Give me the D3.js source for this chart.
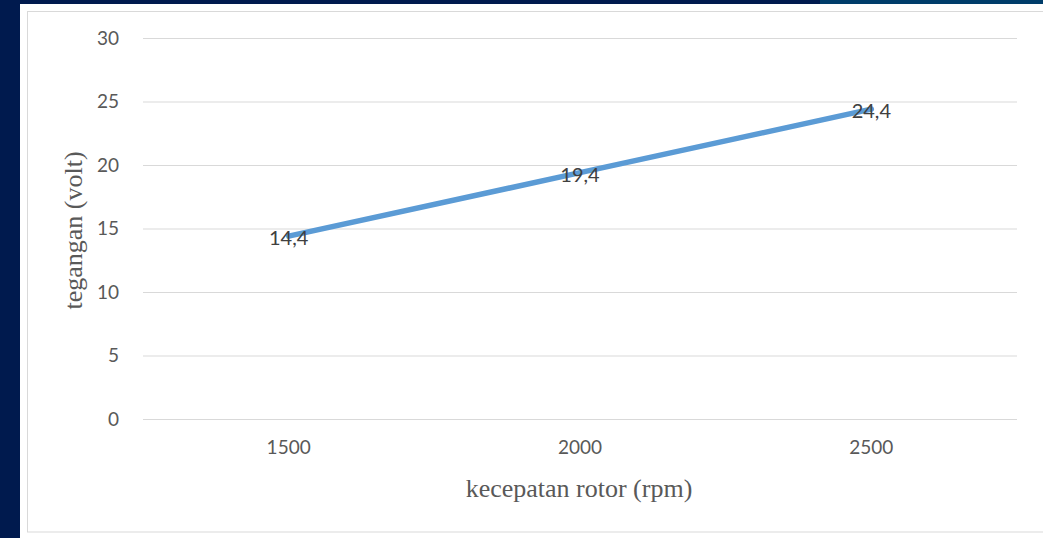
<!DOCTYPE html>
<html>
<head>
<meta charset="utf-8">
<script src="https://cdn.jsdelivr.net/npm/d3@7"></script>
<style>
  html, body { margin: 0; padding: 0; background: #001a4e; }
  svg { display: block; }
</style>
</head>
<body>
<svg id="chart" width="1043" height="538"></svg>
<script>
const categories = ["1500", "2000", "2500"];
const voltages = [14.4, 19.4, 24.4];
const dataLabels = ["14,4", "19,4", "24,4"];
const yTicks = [0, 5, 10, 15, 20, 25, 30];
const xTitle = "kecepatan rotor (rpm)";
const yTitle = "tegangan (volt)";

(function () {
const svg = d3.select("#chart");
const sans = "Lato, 'Open Sans', sans-serif";
const serif = "'Liberation Serif', 'Times New Roman', serif";

// page background pieces
svg.append("rect").attr("x", 0).attr("y", 0).attr("width", 1043).attr("height", 538).attr("fill", "#001a4e");
svg.append("rect").attr("x", 820).attr("y", 0).attr("width", 223).attr("height", 4).attr("fill", "#003d6a");
svg.append("rect").attr("x", 20).attr("y", 4).attr("width", 1023).attr("height", 534).attr("fill", "#ffffff");
// chart border
svg.append("rect").attr("x", 27.5).attr("y", 11.5).attr("width", 1030).attr("height", 520.5)
  .attr("fill", "none").attr("stroke", "#d9d9d9").attr("stroke-width", 1);

const plotLeft = 143, plotRight = 1017, plotTop = 38, plotBottom = 419;

const x = d3.scaleBand().domain(categories).range([plotLeft, plotRight]).padding(0);
const y = d3.scaleLinear().domain([0, 30]).range([plotBottom, plotTop]);

// gridlines + y tick labels
const yAxis = d3.axisLeft(y).tickValues(yTicks).tickSize(-(plotRight - plotLeft)).tickPadding(24);
const gy = svg.append("g").attr("transform", `translate(${plotLeft},0)`).call(yAxis);
gy.select(".domain").remove();
gy.selectAll(".tick line").attr("stroke", "#d9d9d9").attr("stroke-width", 1);
gy.selectAll(".tick text").attr("fill", "#595959")
  .style("font-family", sans).style("font-size", "19px");

const xAxis = d3.axisBottom(x).tickSize(0).tickPadding(22);
const gx = svg.append("g").attr("transform", `translate(0,${plotBottom})`).call(xAxis);
gx.select(".domain").remove();
gx.selectAll(".tick text").attr("fill", "#595959")
  .style("font-family", sans).style("font-size", "19px");

const cx = d => x(d) + x.bandwidth() / 2;

const line = d3.line().x((d, i) => cx(categories[i])).y(d => y(d));
svg.append("path").datum(voltages).attr("d", line)
  .attr("fill", "none").attr("stroke", "#5b9bd5").attr("stroke-width", 5.5).attr("stroke-linecap", "round");

svg.append("g").selectAll("text").data(voltages).join("text")
  .attr("x", (d, i) => cx(categories[i]))
  .attr("y", d => y(d) + 9)
  .attr("text-anchor", "middle")
  .attr("fill", "#404040")
  .style("font-family", sans).style("font-size", "20px")
  .text((d, i) => dataLabels[i]);

svg.append("text").attr("x", (plotLeft + plotRight) / 2 - 1).attr("y", 497)
  .attr("text-anchor", "middle").attr("fill", "#595959")
  .style("font-family", serif).style("font-size", "26px")
  .text(xTitle);

svg.append("text").attr("transform", `translate(82,${(plotTop + plotBottom) / 2 + 2}) rotate(-90)`)
  .attr("text-anchor", "middle").attr("fill", "#595959")
  .style("font-family", serif).style("font-size", "26px")
  .text(yTitle);
})();
</script>
</body>
</html>
